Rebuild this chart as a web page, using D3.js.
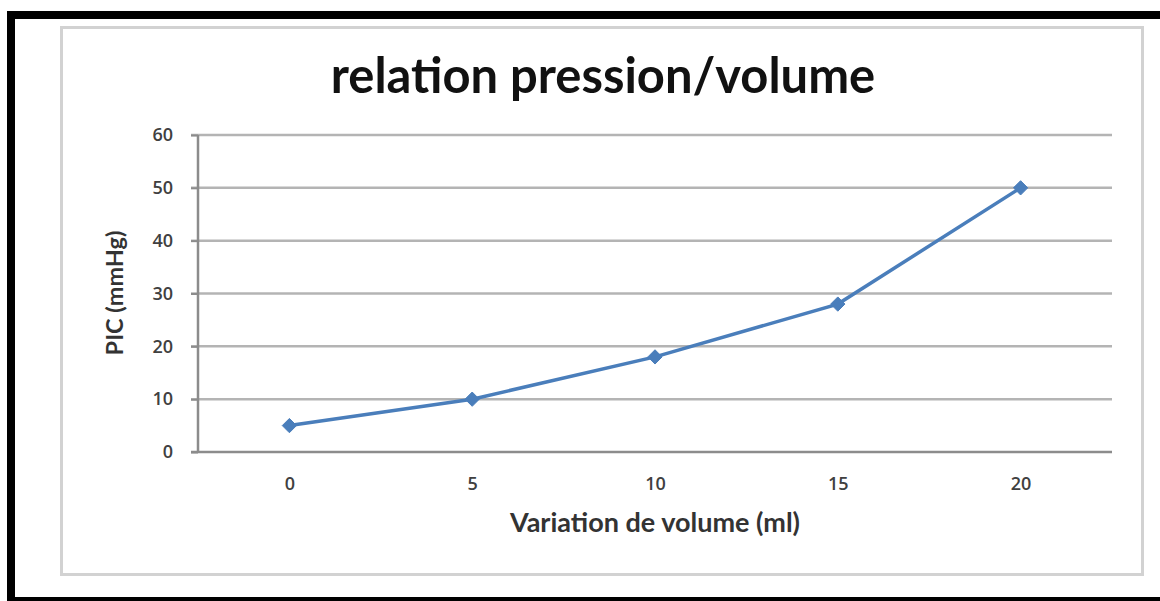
<!DOCTYPE html>
<html>
<head>
<meta charset="utf-8">
<script src="https://cdn.jsdelivr.net/npm/d3@7"></script>
<style>
  html, body { margin: 0; padding: 0; background: #fff; }
  svg { display: block; }
</style>
</head>
<body>
<svg id="chart" width="1160" height="601"></svg>
<script>
// données
const volumes = ["0", "5", "10", "15", "20"];
const pressions = [5, 10, 18, 28, 50];
const yTicks = [0, 10, 20, 30, 40, 50, 60];
const titre = "relation pression/volume";
const titreX = "Variation de volume (ml)";
const titreY = "PIC (mmHg)";

const svg = d3.select("#chart");
const W = +svg.attr("width"), H = +svg.attr("height");

// cadre noir (coupé à droite)
svg.append("rect").attr("x", 7).attr("y", 11).attr("width", 8).attr("height", H - 11).attr("fill", "#000");
svg.append("rect").attr("x", 7).attr("y", 11).attr("width", W - 7).attr("height", 8).attr("fill", "#000");
svg.append("rect").attr("x", 7).attr("y", 597).attr("width", W - 7).attr("height", 4).attr("fill", "#000");

// bordure grise de la zone du graphique
svg.append("rect")
    .attr("x", 61.5).attr("y", 27.5)
    .attr("width", 1081).attr("height", 547)
    .attr("fill", "none")
    .attr("stroke", "#d2d2d2")
    .attr("stroke-width", 3);

const plot = { left: 198, right: 1112, top: 135, bottom: 452 };

const x = d3.scalePoint()
    .domain(volumes)
    .range([plot.left, plot.right])
    .padding(0.5);

const y = d3.scaleLinear()
    .domain([0, 60])
    .range([plot.bottom, plot.top]);

// grille horizontale
svg.append("g")
    .selectAll("line")
    .data(yTicks.filter(d => d > 0))
    .enter().append("line")
    .attr("x1", plot.left - 7)
    .attr("x2", plot.right)
    .attr("y1", d => y(d))
    .attr("y2", d => y(d))
    .attr("stroke", "#b4b4b4")
    .attr("stroke-width", 2.5);

// axe Y
const yAxis = svg.append("g")
    .attr("transform", `translate(${plot.left},0)`)
    .call(d3.axisLeft(y).tickValues(yTicks).tickSize(7).tickPadding(18));
yAxis.select(".domain").attr("stroke", "#8c8c8c").attr("stroke-width", 2.5)
    .attr("d", `M0,${plot.top}V${plot.bottom}`);
yAxis.selectAll(".tick line").attr("stroke", "#8c8c8c").attr("stroke-width", 2);
yAxis.selectAll(".tick text")
    .attr("fill", "#404040")
    .style("font", "600 18px 'Open Sans', sans-serif");

// axe X
const xAxis = svg.append("g")
    .attr("transform", `translate(0,${plot.bottom})`)
    .call(d3.axisBottom(x).tickSize(0).tickPadding(25));
xAxis.select(".domain").attr("stroke", "#8c8c8c").attr("stroke-width", 2.5)
    .attr("d", `M${plot.left - 7},0H${plot.right}`);
xAxis.selectAll(".tick text")
    .attr("fill", "#404040")
    .style("font", "600 18px 'Open Sans', sans-serif");

// courbe
const line = d3.line()
    .x((d, i) => x(volumes[i]))
    .y(d => y(d));

svg.append("path")
    .datum(pressions)
    .attr("d", line)
    .attr("fill", "none")
    .attr("stroke", "#4a7ebb")
    .attr("stroke-width", 3.5);

// marqueurs en losange
svg.append("g")
    .selectAll("path")
    .data(pressions)
    .enter().append("path")
    .attr("transform", (d, i) => `translate(${x(volumes[i])},${y(d)})`)
    .attr("d", d3.symbol().type(d3.symbolDiamond2).size(130))
    .attr("fill", "#4a7ebb")
    .attr("stroke", "#4a7ebb")
    .attr("stroke-width", 1);

// titre
const t = svg.append("text")
    .attr("x", 603)
    .attr("y", 93)
    .attr("text-anchor", "middle")
    .attr("fill", "#111")
    .style("font", "bold 38px Lato, sans-serif")
    .text(titre);
// ajuster la taille pour une largeur ~545px
const tw = t.node().getComputedTextLength();
t.style("font-size", (38 * 545 / tw).toFixed(1) + "px");

// titre axe X
const tx = svg.append("text")
    .attr("x", 655)
    .attr("y", 532)
    .attr("text-anchor", "middle")
    .attr("fill", "#333")
    .style("font", "bold 15px Lato, sans-serif")
    .text(titreX);
const txw = tx.node().getComputedTextLength();
tx.style("font-size", (15 * 290 / txw).toFixed(1) + "px");

// titre axe Y
const ty = svg.append("text")
    .attr("transform", "translate(123,293) rotate(-90)")
    .attr("text-anchor", "middle")
    .attr("fill", "#333")
    .style("font", "bold 15px Lato, sans-serif")
    .text(titreY);
const tyw = ty.node().getComputedTextLength();
ty.style("font-size", (15 * 125 / tyw).toFixed(1) + "px");
</script>
</body>
</html>
